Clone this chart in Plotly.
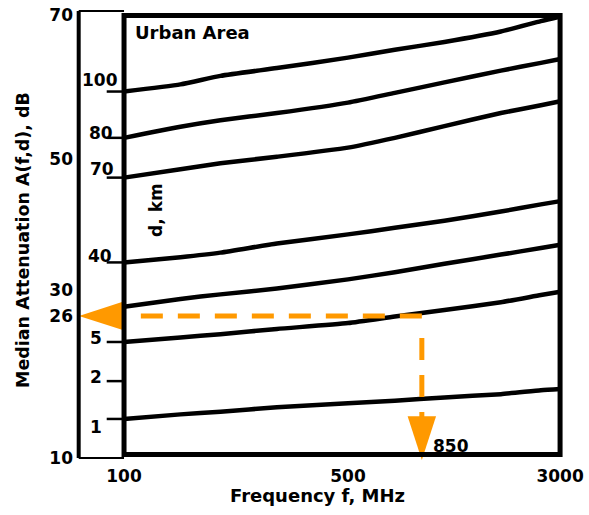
import plotly.graph_objects as go

# ---------------- data ----------------
freq_mhz = [100, 150, 200, 300, 500, 700, 1000, 1500, 2000, 2300]
atten_d100 = [60.4, 61.5, 62.8, 64.0, 65.6, 66.8, 68.0, 69.6, 71.2, 71.9]
atten_d80 = [53.3, 55.0, 56.0, 57.1, 58.7, 60.2, 61.8, 63.6, 64.8, 65.4]
atten_d70 = [47.2, 48.5, 49.4, 50.4, 51.8, 53.3, 55.1, 57.1, 58.3, 58.9]
atten_d40 = [34.2, 35.0, 35.7, 37.1, 38.5, 39.5, 40.6, 42.0, 43.1, 43.6]
atten_unlabeled = [27.4, 28.6, 29.3, 30.2, 31.6, 32.7, 34.0, 35.4, 36.4, 36.9]
atten_d5 = [22.0, 22.7, 23.2, 24.0, 24.9, 25.9, 26.9, 28.1, 29.2, 29.7]
atten_d1 = [10.2, 10.9, 11.3, 12.0, 12.6, 13.0, 13.5, 14.0, 14.6, 14.8]

d_labels = ["100", "80", "70", "40", "5", "2", "1"]
d_label_atten = [60.4, 53.3, 47.2, 34.2, 22.0, 16.0, 10.2]

y_tick_labels = ["70", "50", "30", "26", "10"]
x_tick_labels = ["100", "500", "3000"]

example_freq = 850
example_atten = 26

# ---------------- layout geometry ----------------
W, H = 589, 515
PL, PR, PT, PB = 78, 572, 5, 460          # plot area in pixels
K_X, X100_PX = 323.7, 124.5               # px per decade, pixel of 100 MHz
K_Y, Y50_PX = 6.58, 156.7                 # px per dB, pixel of 50 dB


def px_to_logf(px):
    return 2 + (px - X100_PX) / K_X


def py_to_db(py):
    return 50 - (py - Y50_PX) / K_Y


def paper_x(px):
    return (px - PL) / (PR - PL)


def paper_y(py):
    return (PB - py) / (PB - PT)


x_range = [px_to_logf(PL), px_to_logf(PR)]
y_range = [py_to_db(PB), py_to_db(PT)]

FRAME_L, FRAME_R, FRAME_T, FRAME_B = 124.5, 565, 11.5, 454.5
BOX_L, BOX_T, BOX_B = 78.7, 7, 458

y_tick_vals = [py_to_db(FRAME_T), 50, 30, 26, py_to_db(BOX_B)]
x_tick_vals = [100, 500, 10 ** px_to_logf(FRAME_R)]

FONT = "DejaVu Sans"
ORANGE = "#FF9900"

fig = go.Figure()

for vals in [atten_d100, atten_d80, atten_d70, atten_d40,
             atten_unlabeled, atten_d5, atten_d1]:
    fig.add_trace(go.Scatter(
        x=freq_mhz, y=vals, mode="lines",
        line=dict(color="black", width=4.5, shape="spline", smoothing=0.5),
        hoverinfo="skip", showlegend=False))

# dashed example lines
fig.add_trace(go.Scatter(
    x=[example_freq, 100], y=[example_atten, example_atten], mode="lines",
    line=dict(color=ORANGE, width=5, dash="22px,15px"),
    hoverinfo="skip", showlegend=False))
fig.add_trace(go.Scatter(
    x=[example_freq, example_freq], y=[example_atten, py_to_db(430)], mode="lines",
    line=dict(color=ORANGE, width=5,
              dash="0px,22px,22px,15px,22px,15px,22px,15px"),
    hoverinfo="skip", showlegend=False))
# arrow heads
fig.add_trace(go.Scatter(
    x=[10 ** x_range[0] * 10 ** (1 / K_X)], y=[example_atten], mode="markers",
    marker=dict(symbol="arrow", size=46, angle=-90, color=ORANGE,
                line=dict(width=0)),
    cliponaxis=False, hoverinfo="skip", showlegend=False))
fig.add_trace(go.Scatter(
    x=[example_freq], y=[y_range[0]], mode="markers",
    marker=dict(symbol="arrow", size=46, angle=180, color=ORANGE,
                line=dict(width=0)),
    cliponaxis=False, hoverinfo="skip", showlegend=False))

shapes = []
# left narrow box
shapes.append(dict(type="line", xref="paper", yref="paper",
                   x0=paper_x(BOX_L), x1=paper_x(BOX_L),
                   y0=paper_y(BOX_T), y1=paper_y(BOX_B),
                   line=dict(color="black", width=4)))
for yy in (BOX_T, BOX_B):
    shapes.append(dict(type="line", xref="paper", yref="paper",
                       x0=paper_x(BOX_L), x1=paper_x(FRAME_L),
                       y0=paper_y(yy), y1=paper_y(yy),
                       line=dict(color="black", width=2)))
# main frame
shapes.append(dict(type="rect", xref="paper", yref="paper",
                   x0=paper_x(FRAME_L), x1=paper_x(FRAME_R),
                   y0=paper_y(FRAME_B), y1=paper_y(FRAME_T),
                   line=dict(color="black", width=5)))
# d-label tick segments
for v in d_label_atten:
    shapes.append(dict(type="line", xref="paper", yref="y",
                       x0=paper_x(107), x1=paper_x(FRAME_L - 2), y0=v, y1=v,
                       line=dict(color="black", width=2.5)))

annotations = []
d_label_right_px = [120, 115, 116, 114, 104, 104, 104]
d_label_shift = [12, 5, 9, 6, 4, 4, -8]
for lab, v, rx, sh in zip(d_labels, d_label_atten, d_label_right_px, d_label_shift):
    annotations.append(dict(
        x=paper_x(rx), y=v, xref="paper", yref="y", text=lab,
        showarrow=False, xanchor="right", yanchor="middle", yshift=sh,
        font=dict(family=FONT, size=17, color="black", weight="bold")))

annotations += [
    dict(x=paper_x(193.3), y=paper_y(28.7), xref="paper", yref="paper",
         text="Urban Area", showarrow=False, xanchor="center", yanchor="middle",
         font=dict(family=FONT, size=18, color="black", weight="bold")),
    dict(x=paper_x(157), y=paper_y(207.5), xref="paper", yref="paper",
         text="d, km", showarrow=False, textangle=-90,
         xanchor="center", yanchor="middle",
         font=dict(family=FONT, size=17, color="black", weight="bold")),
    dict(x=paper_x(455), y=paper_y(446), xref="paper", yref="paper",
         text=str(example_freq), showarrow=False, xanchor="center", yanchor="middle",
         font=dict(family=FONT, size=17, color="black", weight="bold")),
    dict(x=paper_x(23), y=paper_y(238.5), xref="paper", yref="paper",
         text="Median Attenuation A(f,d), dB", showarrow=False, textangle=-90,
         xanchor="center", yanchor="middle",
         font=dict(family=FONT, size=17.5, color="black", weight="bold")),
    dict(x=paper_x(320), y=paper_y(496), xref="paper", yref="paper",
         text="Frequency f, MHz", showarrow=False, xanchor="center", yanchor="middle",
         font=dict(family=FONT, size=18, color="black", weight="bold")),
]

fig.update_layout(
    width=W, height=H,
    margin=dict(l=PL, r=W - PR, t=PT, b=H - PB, pad=0),
    paper_bgcolor="white", plot_bgcolor="white",
    showlegend=False,
    shapes=shapes, annotations=annotations,
    xaxis=dict(type="log", range=x_range, showgrid=False, zeroline=False,
               showline=False, ticks="", tickvals=x_tick_vals,
               ticktext=x_tick_labels, ticklabelstandoff=4,
               tickfont=dict(family=FONT, size=17, color="black", weight="bold")),
    yaxis=dict(range=y_range, showgrid=False, zeroline=False, showline=False,
               ticks="", tickvals=y_tick_vals, ticktext=y_tick_labels,
               ticklabelstandoff=4,
               tickfont=dict(family=FONT, size=17, color="black", weight="bold")),
)

fig.write_html("out.html", config={"displayModeBar": False},
               post_script="document.body.style.margin='0';")
